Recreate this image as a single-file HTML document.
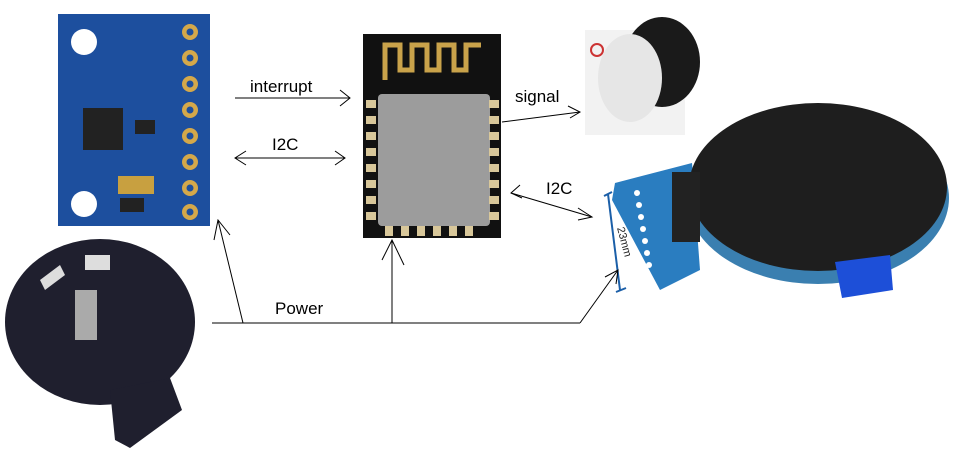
<!DOCTYPE html>
<html><head><meta charset="utf-8"><style>
html,body{margin:0;padding:0;background:#fff;}
svg{display:block;}
text{font-family:"Liberation Sans",sans-serif;}
</style></head><body>
<svg width="968" height="459" viewBox="0 0 968 459" xmlns="http://www.w3.org/2000/svg">
<!-- MPU board -->
<rect x="58" y="14" width="152" height="212" fill="#1d4f9e"/>
<circle cx="84" cy="42" r="13" fill="#fff"/>
<circle cx="84" cy="204" r="13" fill="#fff"/>
<g fill="#d4a84a">
<circle cx="190" cy="32" r="8"/><circle cx="190" cy="58" r="8"/><circle cx="190" cy="84" r="8"/><circle cx="190" cy="110" r="8"/>
<circle cx="190" cy="136" r="8"/><circle cx="190" cy="162" r="8"/><circle cx="190" cy="188" r="8"/><circle cx="190" cy="212" r="8"/>
</g>
<g fill="#1d4f9e"><circle cx="190" cy="32" r="3.5"/><circle cx="190" cy="58" r="3.5"/><circle cx="190" cy="84" r="3.5"/><circle cx="190" cy="110" r="3.5"/><circle cx="190" cy="136" r="3.5"/><circle cx="190" cy="162" r="3.5"/><circle cx="190" cy="188" r="3.5"/><circle cx="190" cy="212" r="3.5"/></g>
<rect x="83" y="108" width="40" height="42" fill="#222"/>
<rect x="118" y="176" width="36" height="18" fill="#c8a040"/>
<rect x="135" y="120" width="20" height="14" fill="#222"/>
<rect x="120" y="198" width="24" height="14" fill="#222"/>
<!-- ESP module -->
<rect x="363" y="34" width="138" height="204" fill="#111"/>
<path d="M385 80 V45 H400 V70 H412 V45 H427 V70 H439 V45 H454 V70 H466 V45 H481" stroke="#c9a24a" stroke-width="5" fill="none"/>
<rect x="378" y="94" width="112" height="132" rx="4" fill="#9c9c9c"/>
<g fill="#d8c79a">
<rect x="366" y="100" width="10" height="8"/><rect x="366" y="116" width="10" height="8"/><rect x="366" y="132" width="10" height="8"/><rect x="366" y="148" width="10" height="8"/><rect x="366" y="164" width="10" height="8"/><rect x="366" y="180" width="10" height="8"/><rect x="366" y="196" width="10" height="8"/><rect x="366" y="212" width="10" height="8"/>
<rect x="489" y="100" width="10" height="8"/><rect x="489" y="116" width="10" height="8"/><rect x="489" y="132" width="10" height="8"/><rect x="489" y="148" width="10" height="8"/><rect x="489" y="164" width="10" height="8"/><rect x="489" y="180" width="10" height="8"/><rect x="489" y="196" width="10" height="8"/><rect x="489" y="212" width="10" height="8"/>
<rect x="385" y="226" width="8" height="10"/><rect x="401" y="226" width="8" height="10"/><rect x="417" y="226" width="8" height="10"/><rect x="433" y="226" width="8" height="10"/><rect x="449" y="226" width="8" height="10"/><rect x="465" y="226" width="8" height="10"/>
</g>
<!-- Buzzer -->
<rect x="585" y="30" width="100" height="105" fill="#f2f2f2"/>
<ellipse cx="662" cy="62" rx="38" ry="45" fill="#1a1a1a"/>
<ellipse cx="630" cy="78" rx="32" ry="44" fill="#e6e6e6"/>
<circle cx="597" cy="50" r="6" fill="none" stroke="#c33" stroke-width="2"/>
<!-- Display -->
<path d="M615 183 L692 163 L700 270 L660 290 L612 200 Z" fill="#2a7dc0"/>
<ellipse cx="818" cy="198" rx="131" ry="86" fill="#3a7fb0"/>
<ellipse cx="818" cy="187" rx="129" ry="84" fill="#1e1e1e"/>
<rect x="672" y="172" width="28" height="70" fill="#222"/>
<path d="M835 262 L890 255 L893 290 L842 298 Z" fill="#1d4fd8"/>
<g fill="#fff"><circle cx="637" cy="193" r="3"/><circle cx="639" cy="205" r="3"/><circle cx="641" cy="217" r="3"/><circle cx="643" cy="229" r="3"/><circle cx="645" cy="241" r="3"/><circle cx="647" cy="253" r="3"/><circle cx="649" cy="265" r="3"/></g>
<path d="M604 196 L612 192 M608 194 L620 290 M616 292 L626 288" stroke="#1b5fa8" stroke-width="2" fill="none"/>
<text x="0" y="0" font-size="11" fill="#222" transform="translate(617,228) rotate(75)">23mm</text>
<!-- Battery holder -->
<ellipse cx="100" cy="322" rx="95" ry="83" fill="#1f1f2e"/>
<path d="M110 390 L170 378 L182 410 L130 448 L115 440 Z" fill="#1f1f2e"/>
<rect x="75" y="290" width="22" height="50" fill="#aaa"/>
<path d="M40 280 L60 265 L65 275 L45 290 Z M85 255 L110 255 L110 270 L85 270 Z" fill="#ddd"/>
<!-- connectors -->
<g stroke="#000" stroke-width="1" fill="none">
<line x1="235" y1="98" x2="350" y2="98"/><path d="M340 90 L350 98 L340 106"/>
<line x1="235" y1="158" x2="345" y2="158"/><path d="M246 151 L235 158 L246 165"/><path d="M335 151 L345 158 L335 165"/>
<line x1="502" y1="122" x2="580" y2="112"/><path d="M568 106 L580 112 L570 118"/>
<line x1="511" y1="193" x2="592" y2="217"/><path d="M520 185 L511 193 L522 198"/><path d="M578 208 L592 217 L578 220"/>
<line x1="212" y1="323" x2="580" y2="323"/>
<line x1="580" y1="323" x2="618" y2="270"/><path d="M605 277 L618 270 L616 284"/>
<line x1="243" y1="323" x2="218" y2="220"/><path d="M214 240 L218 220 L230 235"/>
<line x1="392" y1="323" x2="392" y2="240"/><path d="M382 260 L392 240 L404 265"/>
</g>
<g font-size="17" fill="#000">
<text x="250" y="92">interrupt</text>
<text x="272" y="150">I2C</text>
<text x="515" y="102">signal</text>
<text x="546" y="194">I2C</text>
<text x="275" y="314">Power</text>
</g>
</svg>
</body></html>
